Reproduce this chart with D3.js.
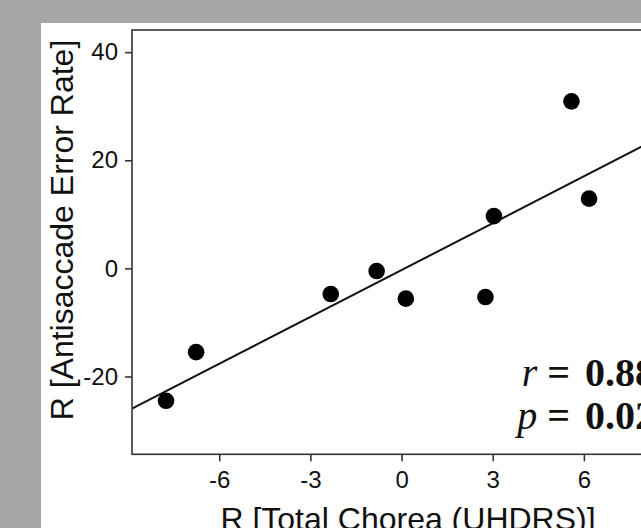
<!DOCTYPE html>
<html>
<head>
<meta charset="utf-8">
<script src="https://cdn.jsdelivr.net/npm/d3@7"></script>
<style>
  html, body { margin: 0; padding: 0; background: #a6a6a6; overflow: hidden; }
  svg { display: block; }
</style>
</head>
<body>
<script>
// Data
const xValues = [-7.75, -6.76, -2.33, -0.82, 0.14, 2.76, 3.04, 5.59, 6.17];
const yValues = [-24.5, -15.5, -4.75, -0.5, -5.6, -5.3, 9.67, 30.9, 12.9];
const xTicks = [-6, -3, 0, 3, 6];
const yTicks = [-20, 0, 20, 40];
const statR = "0.88";
const statP = "0.02";
const xTitle = "R [Total Chorea (UHDRS)]";
const yTitle = "R [Antisaccade Error Rate]";

(function () {
const W = 641, H = 528;
const svg = d3.select("body").append("svg").attr("width", W).attr("height", H);

// white panel
svg.append("rect").attr("x", 41).attr("y", 23).attr("width", W).attr("height", H).attr("fill", "#fff");

const pLeft = 132, pTop = 30, pBottom = 454.3;
const x = d3.scaleLinear().domain([-8.87, 9]).range([pLeft, pLeft + 17.87 * 30.39]);
const y = d3.scaleLinear().domain([-34.4, 44.1]).range([pBottom, pTop]);

const axisColor = "#333";

svg.append("clipPath").attr("id", "plotclip")
  .append("rect").attr("x", pLeft).attr("y", pTop).attr("width", x.range()[1] - pLeft).attr("height", pBottom - pTop);

// regression line (least squares from the data)
const n = xValues.length;
const mx = d3.mean(xValues), my = d3.mean(yValues);
let sxy = 0, sxx = 0;
for (let i = 0; i < n; i++) { sxy += (xValues[i] - mx) * (yValues[i] - my); sxx += (xValues[i] - mx) ** 2; }
const slope = sxy / sxx, icpt = my - slope * mx;
const xd = x.domain();
svg.append("line")
  .attr("clip-path", "url(#plotclip)")
  .attr("x1", x(xd[0])).attr("y1", y(icpt + slope * xd[0]))
  .attr("x2", x(xd[1])).attr("y2", y(icpt + slope * xd[1]))
  .attr("stroke", "#111").attr("stroke-width", 2);

// points
svg.append("g").selectAll("circle").data(xValues.map((v, i) => [v, yValues[i]])).join("circle")
  .attr("cx", d => x(d[0])).attr("cy", d => y(d[1])).attr("r", 8.3).attr("fill", "#000");

// box
svg.append("rect").attr("x", pLeft).attr("y", pTop)
  .attr("width", x.range()[1] - pLeft).attr("height", pBottom - pTop)
  .attr("fill", "none").attr("stroke", axisColor).attr("stroke-width", 1.6);

// axes
const gx = svg.append("g").attr("transform", `translate(0,${pBottom})`)
  .call(d3.axisBottom(x).tickValues(xTicks).tickSize(7).tickPadding(10).tickFormat(d3.format("d")));
const gy = svg.append("g").attr("transform", `translate(${pLeft},0)`)
  .call(d3.axisLeft(y).tickValues(yTicks).tickSize(7).tickPadding(7).tickFormat(d3.format("d")));
[gx, gy].forEach(g => {
  g.select(".domain").remove();
  g.selectAll(".tick line").attr("stroke", axisColor).attr("stroke-width", 1.6);
  g.selectAll(".tick text").attr("fill", "#111")
    .style("font-family", "'Liberation Sans', Arial, sans-serif").style("font-size", "24px");
});
gx.selectAll(".tick text").text(d => d < 0 ? "-" + Math.abs(d) : d);
gy.selectAll(".tick text").text(d => d < 0 ? "-" + Math.abs(d) : d);

// titles
svg.append("text").attr("x", 408).attr("y", 530).attr("text-anchor", "middle")
  .style("font-family", "'Liberation Sans', Arial, sans-serif").style("font-size", "32px").attr("fill", "#111")
  .text(xTitle);
svg.append("text").attr("transform", "translate(73,230) rotate(-90)").attr("text-anchor", "middle")
  .style("font-family", "'Liberation Sans', Arial, sans-serif").style("font-size", "32px").attr("fill", "#111")
  .text(yTitle);

// stats
function stat(letter, val, by) {
  const t = svg.append("text").attr("x", 655).attr("y", by).attr("text-anchor", "end")
    .style("font-family", "'Liberation Serif', 'Times New Roman', serif").style("font-size", "40px").attr("fill", "#111");
  t.append("tspan").style("font-style", "italic").text(letter);
  t.append("tspan").style("font-weight", "bold").text(" =");
  t.append("tspan").attr("dx", 5).style("font-weight", "bold").text(" " + val);
}
stat("r", statR, 386);
stat("p", statP, 429);
})();
</script>
</body>
</html>
